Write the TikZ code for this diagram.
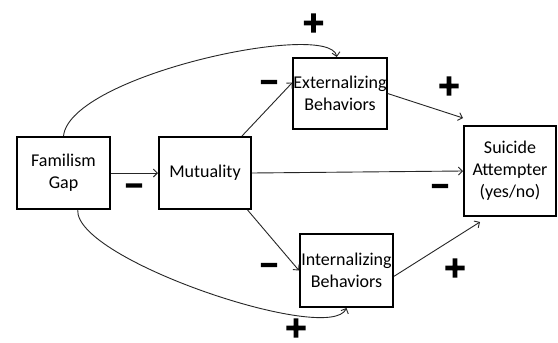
\documentclass[tikz,border=0pt]{standalone}
\usepackage{fontspec}
\setmainfont{Carlito}
\newfontfamily\signfont[FakeBold=6]{DejaVu Sans Bold}
\usetikzlibrary{arrows.meta}
\tikzset{
  box/.style={draw=black, line width=2pt, fill=white, align=center, inner sep=0pt,
    font=\fontsize{18}{22}\selectfont},
  conn/.style={draw=black!85, line width=0.9pt, -{Straight Barb[length=4pt,width=8pt]}},
  plussign/.style={inner sep=0pt, font=\signfont\fontsize{28}{28}\selectfont},
  minussign/.style={inner sep=0pt, font=\signfont\fontsize{24}{24}\selectfont},
}
\begin{document}
\begin{tikzpicture}[x=1pt,y=-1pt]
\useasboundingbox[fill=white] (0,0) rectangle (558,343);
\node[box, minimum width=93pt, minimum height=72pt] (fam) at (63.5,173) {Familism\\Gap};
\node[box, minimum width=92pt, minimum height=72pt] (mut) at (205,173) {Mutuality};
\node[box, minimum width=92pt, minimum height=71pt] (ext) at (340,93.5) {Externalizing\\Behaviors};
\node[box, minimum width=93pt, minimum height=73pt] (int) at (346.5,270.5) {Internalizing\\Behaviors};
\node[box, minimum width=92pt, minimum height=90pt] (sui) at (510,171) {Suicide\\Attempter\\(yes/no)};
\coordinate (esend) at (463,118);
\coordinate (isend) at (480,222);
\draw[conn] (fam.east) -- (mut.west);
\draw[conn] (mut.east) -- (sui.west);
\draw[conn] (mut.45) -- (ext.167);
\draw[conn] (mut.-41) -- (int.west);
\draw[conn] (ext.east) -- (esend);
\draw[conn] (int.-7) -- (isend);
\draw[conn] (fam.north) .. controls (70,75) and (330,20) .. (ext.95);
\draw[conn] (fam.-69) .. controls (75,260) and (330,345) .. (int.south);
\node[plussign] (p1) at (313.5,23) {+};
\node[minussign] (m1) at (269,85) {−};
\node[plussign] (p2) at (449,86) {+};
\node[minussign] (m2) at (134,188.5) {−};
\node[minussign] (m3) at (440,189) {−};
\node[minussign] (m4) at (269,268) {−};
\node[plussign] (p3) at (455,268) {+};
\node[plussign] (p4) at (296,328) {+};
\end{tikzpicture}
\end{document}
